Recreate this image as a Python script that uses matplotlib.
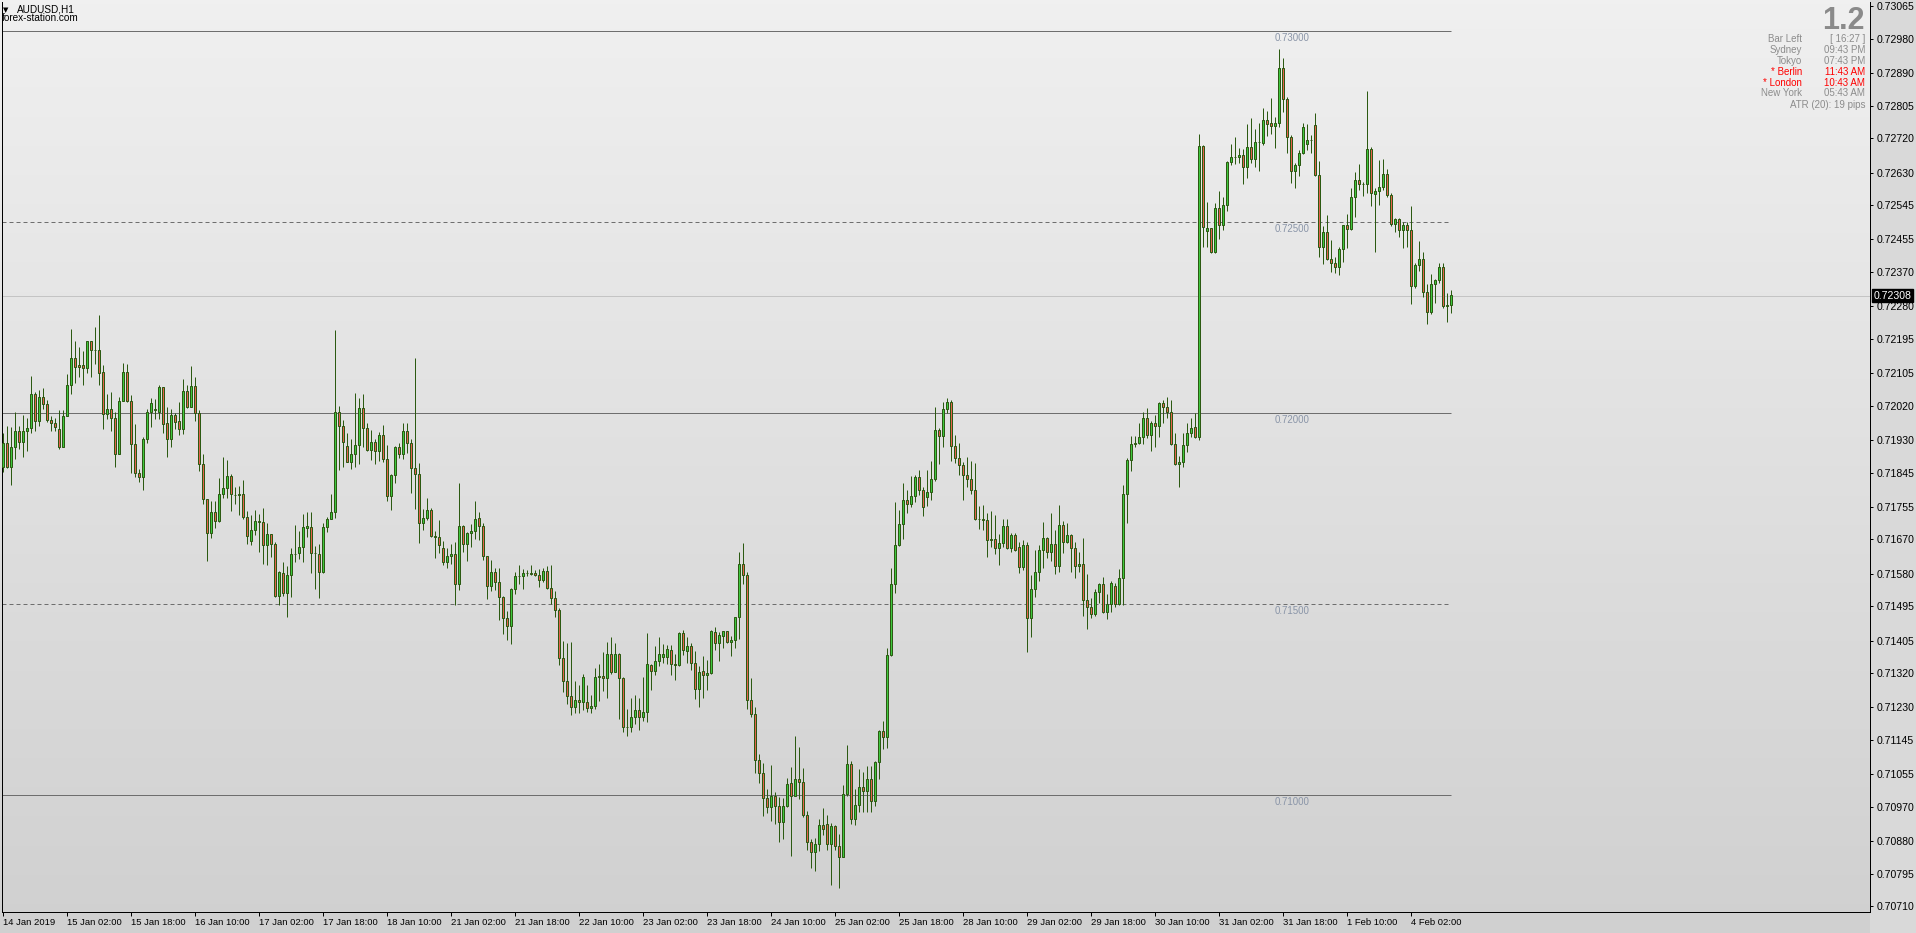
import matplotlib
matplotlib.use("Agg")
import matplotlib.pyplot as plt
import numpy as np
from matplotlib.colors import LinearSegmentedColormap
from matplotlib.patches import Rectangle
import matplotlib.transforms as mtransforms

plt.rcParams['font.family'] = ['Liberation Sans', 'DejaVu Sans']

# ---------------- data (AUDUSD H1, bar 0 = 14 Jan 2019 10:00) ----------------
opens = [
    0.71860, 0.71921, 0.71860, 0.71911, 0.71953, 0.71924, 0.71953, 0.71961, 0.72050, 0.71979,
    0.72042, 0.72024, 0.71982, 0.71974, 0.71958, 0.71913, 0.71992, 0.72073, 0.72144, 0.72126,
    0.72126, 0.72118, 0.72188, 0.72167, 0.72167, 0.72107, 0.71997, 0.72010, 0.71987, 0.71894,
    0.72031, 0.72107, 0.72031, 0.71919, 0.71845, 0.71832, 0.71932, 0.72003, 0.72010, 0.72004,
    0.72068, 0.71974, 0.71932, 0.71995, 0.71979, 0.71958, 0.72058, 0.72016, 0.72071, 0.72002,
    0.71866, 0.71775, 0.71686, 0.71741, 0.71717, 0.71788, 0.71804, 0.71835, 0.71786, 0.71785,
    0.71788, 0.71729, 0.71665, 0.71694, 0.71717, 0.71715, 0.71654, 0.71683, 0.71659, 0.71523,
    0.71581, 0.71529, 0.71578, 0.71632, 0.71633, 0.71649, 0.71699, 0.71702, 0.71633, 0.71632,
    0.71585, 0.71702, 0.71722, 0.71741, 0.72003, 0.71966, 0.71914, 0.71873, 0.71893, 0.71916,
    0.72013, 0.71961, 0.71903, 0.71924, 0.71900, 0.71942, 0.71880, 0.71784, 0.71838, 0.71911,
    0.71893, 0.71953, 0.71921, 0.71856, 0.71840, 0.71712, 0.71725, 0.71746, 0.71678, 0.71675,
    0.71647, 0.71612, 0.71626, 0.71631, 0.71552, 0.71704, 0.71657, 0.71686, 0.71691, 0.71725,
    0.71704, 0.71626, 0.71549, 0.71584, 0.71558, 0.71518, 0.71463, 0.71442, 0.71539, 0.71573,
    0.71573, 0.71581, 0.71581, 0.71583, 0.71578, 0.71563, 0.71586, 0.71542, 0.71516, 0.71484,
    0.71360, 0.71300, 0.71260, 0.71230, 0.71250, 0.71245, 0.71245, 0.71228, 0.71235, 0.71309,
    0.71313, 0.71306, 0.71369, 0.71322, 0.71369, 0.71306, 0.71178, 0.71180, 0.71206, 0.71222,
    0.71206, 0.71217, 0.71340, 0.71326, 0.71351, 0.71363, 0.71363, 0.71381, 0.71343, 0.71341,
    0.71424, 0.71379, 0.71391, 0.71347, 0.71277, 0.71325, 0.71314, 0.71319, 0.71427, 0.71398,
    0.71417, 0.71429, 0.71402, 0.71407, 0.71467, 0.71605, 0.71576, 0.71249, 0.71213, 0.71092,
    0.71058, 0.70992, 0.70970, 0.70999, 0.70973, 0.70931, 0.70971, 0.71031, 0.70999, 0.71042,
    0.71034, 0.70949, 0.70879, 0.70852, 0.70872, 0.70921, 0.70926, 0.70873, 0.70920, 0.70868,
    0.70839, 0.71003, 0.71081, 0.70939, 0.70974, 0.71023, 0.71012, 0.71042, 0.70986, 0.71086,
    0.71168, 0.71152, 0.71366, 0.71552, 0.71654, 0.71709, 0.71772, 0.71762, 0.71783, 0.71832,
    0.71798, 0.71780, 0.71793, 0.71827, 0.71955, 0.71940, 0.72010, 0.72029, 0.71914, 0.71882,
    0.71864, 0.71839, 0.71829, 0.71798, 0.71722, 0.71722, 0.71720, 0.71669, 0.71670, 0.71647,
    0.71660, 0.71705, 0.71648, 0.71681, 0.71650, 0.71597, 0.71655, 0.71465, 0.71539, 0.71585,
    0.71642, 0.71673, 0.71638, 0.71657, 0.71599, 0.71708, 0.71664, 0.71681, 0.71647, 0.71599,
    0.71606, 0.71510, 0.71492, 0.71474, 0.71531, 0.71553, 0.71481, 0.71502, 0.71549, 0.71502,
    0.71568, 0.71788, 0.71878, 0.71920, 0.71923, 0.71937, 0.71989, 0.71942, 0.71974, 0.71968,
    0.72026, 0.72016, 0.72003, 0.71920, 0.71868, 0.71872, 0.71917, 0.71948, 0.71963, 0.71939,
    0.72701, 0.72478, 0.72484, 0.72421, 0.72537, 0.72493, 0.72545, 0.72659, 0.72670, 0.72670,
    0.72675, 0.72646, 0.72698, 0.72665, 0.72709, 0.72707, 0.72767, 0.72761, 0.72752, 0.72759,
    0.72905, 0.72822, 0.72722, 0.72633, 0.72650, 0.72682, 0.72704, 0.72715, 0.72756, 0.72624,
    0.72435, 0.72474, 0.72404, 0.72393, 0.72382, 0.72429, 0.72492, 0.72482, 0.72565, 0.72612,
    0.72599, 0.72600, 0.72691, 0.72573, 0.72582, 0.72593, 0.72626, 0.72571, 0.72495, 0.72508,
    0.72480, 0.72492, 0.72480, 0.72332, 0.72387, 0.72403, 0.72317, 0.72264, 0.72339, 0.72349,
    0.72382, 0.72282, 0.72284,
]
highs = [
    0.71948, 0.71967, 0.71965, 0.72003, 0.71968, 0.71995, 0.71989, 0.72098, 0.72056, 0.72061,
    0.72066, 0.72035, 0.71993, 0.71989, 0.72009, 0.72009, 0.72103, 0.72221, 0.72188, 0.72173,
    0.72162, 0.72190, 0.72190, 0.72225, 0.72257, 0.72126, 0.72051, 0.72055, 0.72003, 0.72042,
    0.72131, 0.72129, 0.72047, 0.71971, 0.71853, 0.71939, 0.72010, 0.72040, 0.72037, 0.72074,
    0.72070, 0.72016, 0.72011, 0.72000, 0.72029, 0.72089, 0.72073, 0.72124, 0.72095, 0.72009,
    0.71893, 0.71775, 0.71770, 0.71770, 0.71831, 0.71886, 0.71878, 0.71841, 0.71806, 0.71810,
    0.71825, 0.71743, 0.71733, 0.71747, 0.71736, 0.71751, 0.71713, 0.71683, 0.71664, 0.71586,
    0.71612, 0.71599, 0.71647, 0.71708, 0.71692, 0.71736, 0.71741, 0.71741, 0.71653, 0.71658,
    0.71712, 0.71728, 0.71789, 0.72218, 0.72019, 0.71983, 0.71948, 0.71932, 0.72053, 0.72040,
    0.72051, 0.71974, 0.71956, 0.71934, 0.71950, 0.71969, 0.71916, 0.71840, 0.71914, 0.71921,
    0.71974, 0.71974, 0.71934, 0.72144, 0.71869, 0.71749, 0.71777, 0.71752, 0.71691, 0.71721,
    0.71666, 0.71647, 0.71657, 0.71663, 0.71817, 0.71708, 0.71690, 0.71710, 0.71770, 0.71742,
    0.71714, 0.71626, 0.71616, 0.71595, 0.71595, 0.71522, 0.71482, 0.71542, 0.71584, 0.71602,
    0.71592, 0.71590, 0.71602, 0.71590, 0.71592, 0.71594, 0.71599, 0.71602, 0.71534, 0.71490,
    0.71404, 0.71398, 0.71400, 0.71300, 0.71290, 0.71318, 0.71289, 0.71263, 0.71332, 0.71344,
    0.71375, 0.71401, 0.71414, 0.71399, 0.71372, 0.71309, 0.71226, 0.71255, 0.71263, 0.71255,
    0.71309, 0.71425, 0.71344, 0.71391, 0.71414, 0.71396, 0.71393, 0.71393, 0.71369, 0.71427,
    0.71433, 0.71414, 0.71398, 0.71378, 0.71339, 0.71365, 0.71354, 0.71433, 0.71441, 0.71427,
    0.71430, 0.71430, 0.71416, 0.71468, 0.71636, 0.71660, 0.71584, 0.71307, 0.71230, 0.71108,
    0.71084, 0.71017, 0.71079, 0.71008, 0.70996, 0.70994, 0.71045, 0.71073, 0.71155, 0.71126,
    0.71072, 0.70960, 0.70885, 0.70887, 0.70938, 0.70967, 0.70948, 0.70927, 0.70922, 0.70899,
    0.71027, 0.71132, 0.71090, 0.71017, 0.71069, 0.71061, 0.71077, 0.71077, 0.71090, 0.71170,
    0.71195, 0.71385, 0.71594, 0.71767, 0.71747, 0.71818, 0.71798, 0.71835, 0.71839, 0.71852,
    0.71806, 0.71852, 0.71875, 0.72016, 0.71962, 0.72030, 0.72039, 0.72035, 0.71943, 0.71922,
    0.71873, 0.71885, 0.71875, 0.71869, 0.71757, 0.71759, 0.71738, 0.71744, 0.71734, 0.71684,
    0.71722, 0.71722, 0.71686, 0.71686, 0.71664, 0.71668, 0.71664, 0.71577, 0.71642, 0.71655,
    0.71716, 0.71675, 0.71738, 0.71695, 0.71760, 0.71718, 0.71712, 0.71683, 0.71664, 0.71637,
    0.71674, 0.71579, 0.71516, 0.71539, 0.71557, 0.71571, 0.71527, 0.71561, 0.71556, 0.71592,
    0.71811, 0.71882, 0.71941, 0.71941, 0.71975, 0.72003, 0.72013, 0.71979, 0.71996, 0.72030,
    0.72035, 0.72042, 0.72035, 0.71949, 0.71888, 0.71949, 0.71975, 0.71989, 0.72000, 0.72731,
    0.72703, 0.72552, 0.72486, 0.72550, 0.72582, 0.72567, 0.72661, 0.72704, 0.72724, 0.72694,
    0.72693, 0.72757, 0.72772, 0.72743, 0.72761, 0.72798, 0.72791, 0.72826, 0.72776, 0.72953,
    0.72929, 0.72827, 0.72729, 0.72656, 0.72688, 0.72759, 0.72757, 0.72729, 0.72785, 0.72660,
    0.72490, 0.72519, 0.72454, 0.72410, 0.72436, 0.72493, 0.72523, 0.72589, 0.72631, 0.72652,
    0.72606, 0.72844, 0.72696, 0.72589, 0.72663, 0.72667, 0.72639, 0.72576, 0.72512, 0.72512,
    0.72500, 0.72500, 0.72543, 0.72393, 0.72451, 0.72422, 0.72339, 0.72365, 0.72352, 0.72394,
    0.72394, 0.72314, 0.72323,
]
lows = [
    0.71847, 0.71858, 0.71813, 0.71881, 0.71907, 0.71886, 0.71900, 0.71948, 0.71953, 0.71968,
    0.72010, 0.71976, 0.71953, 0.71953, 0.71907, 0.71911, 0.71992, 0.72050, 0.72080, 0.72096,
    0.72073, 0.72105, 0.72096, 0.72128, 0.72073, 0.71958, 0.71984, 0.71953, 0.71859, 0.71894,
    0.72031, 0.72029, 0.71845, 0.71832, 0.71821, 0.71798, 0.71921, 0.71965, 0.71984, 0.71986,
    0.71949, 0.71886, 0.71913, 0.71960, 0.71944, 0.71947, 0.72015, 0.72016, 0.71981, 0.71850,
    0.71763, 0.71614, 0.71674, 0.71701, 0.71715, 0.71777, 0.71777, 0.71743, 0.71763, 0.71733,
    0.71722, 0.71659, 0.71656, 0.71681, 0.71638, 0.71606, 0.71604, 0.71623, 0.71518, 0.71497,
    0.71523, 0.71468, 0.71518, 0.71612, 0.71619, 0.71612, 0.71677, 0.71583, 0.71541, 0.71516,
    0.71583, 0.71690, 0.71722, 0.71725, 0.71852, 0.71860, 0.71872, 0.71855, 0.71860, 0.71866,
    0.71913, 0.71900, 0.71877, 0.71866, 0.71874, 0.71872, 0.71771, 0.71748, 0.71818, 0.71882,
    0.71880, 0.71895, 0.71792, 0.71749, 0.71660, 0.71694, 0.71720, 0.71676, 0.71620, 0.71633,
    0.71603, 0.71594, 0.71606, 0.71497, 0.71537, 0.71638, 0.71614, 0.71651, 0.71672, 0.71668,
    0.71616, 0.71515, 0.71534, 0.71537, 0.71460, 0.71421, 0.71407, 0.71397, 0.71526, 0.71552,
    0.71539, 0.71573, 0.71576, 0.71573, 0.71544, 0.71558, 0.71539, 0.71502, 0.71468, 0.71340,
    0.71270, 0.71240, 0.71210, 0.71215, 0.71215, 0.71223, 0.71219, 0.71216, 0.71226, 0.71247,
    0.71273, 0.71256, 0.71318, 0.71322, 0.71200, 0.71166, 0.71156, 0.71166, 0.71187, 0.71171,
    0.71195, 0.71192, 0.71275, 0.71315, 0.71339, 0.71347, 0.71344, 0.71315, 0.71303, 0.71338,
    0.71367, 0.71347, 0.71328, 0.71252, 0.71232, 0.71256, 0.71276, 0.71318, 0.71381, 0.71352,
    0.71386, 0.71399, 0.71364, 0.71386, 0.71408, 0.71552, 0.71225, 0.71204, 0.71058, 0.71031,
    0.70947, 0.70953, 0.70934, 0.70926, 0.70879, 0.70886, 0.70970, 0.70842, 0.70998, 0.70991,
    0.70944, 0.70857, 0.70809, 0.70803, 0.70855, 0.70896, 0.70857, 0.70766, 0.70857, 0.70757,
    0.70839, 0.70999, 0.70925, 0.70921, 0.70957, 0.70957, 0.70955, 0.70955, 0.70973, 0.71042,
    0.71120, 0.71123, 0.71365, 0.71529, 0.71652, 0.71672, 0.71738, 0.71756, 0.71769, 0.71786,
    0.71731, 0.71757, 0.71772, 0.71822, 0.71866, 0.71913, 0.72001, 0.71876, 0.71869, 0.71839,
    0.71773, 0.71808, 0.71789, 0.71721, 0.71697, 0.71695, 0.71625, 0.71649, 0.71632, 0.71603,
    0.71651, 0.71646, 0.71638, 0.71640, 0.71583, 0.71590, 0.71376, 0.71414, 0.71518, 0.71562,
    0.71596, 0.71622, 0.71613, 0.71580, 0.71585, 0.71633, 0.71660, 0.71585, 0.71570, 0.71585,
    0.71470, 0.71436, 0.71463, 0.71470, 0.71504, 0.71478, 0.71462, 0.71481, 0.71494, 0.71498,
    0.71498, 0.71714, 0.71850, 0.71911, 0.71920, 0.71920, 0.71936, 0.71902, 0.71911, 0.71939,
    0.71974, 0.71987, 0.71917, 0.71865, 0.71806, 0.71860, 0.71898, 0.71939, 0.71936, 0.71930,
    0.72436, 0.72436, 0.72419, 0.72420, 0.72456, 0.72480, 0.72530, 0.72650, 0.72653, 0.72654,
    0.72600, 0.72615, 0.72656, 0.72646, 0.72633, 0.72702, 0.72726, 0.72730, 0.72694, 0.72750,
    0.72790, 0.72681, 0.72604, 0.72591, 0.72622, 0.72680, 0.72688, 0.72681, 0.72622, 0.72410,
    0.72390, 0.72401, 0.72371, 0.72366, 0.72362, 0.72397, 0.72432, 0.72480, 0.72515, 0.72585,
    0.72570, 0.72576, 0.72543, 0.72423, 0.72545, 0.72585, 0.72567, 0.72490, 0.72474, 0.72462,
    0.72432, 0.72436, 0.72285, 0.72327, 0.72373, 0.72305, 0.72233, 0.72259, 0.72290, 0.72342,
    0.72275, 0.72238, 0.72262,
]
closes = [
    0.71921, 0.71860, 0.71911, 0.71953, 0.71924, 0.71953, 0.71961, 0.72050, 0.71979, 0.72042,
    0.72024, 0.71982, 0.71974, 0.71963, 0.71913, 0.71992, 0.72073, 0.72144, 0.72120, 0.72120,
    0.72118, 0.72188, 0.72167, 0.72165, 0.72105, 0.71997, 0.72010, 0.71987, 0.71894, 0.72031,
    0.72107, 0.72031, 0.71919, 0.71845, 0.71832, 0.71932, 0.72003, 0.72026, 0.72008, 0.72068,
    0.71971, 0.71932, 0.71995, 0.71978, 0.71958, 0.72058, 0.72017, 0.72071, 0.72000, 0.71866,
    0.71775, 0.71686, 0.71741, 0.71717, 0.71788, 0.71804, 0.71835, 0.71788, 0.71785, 0.71788,
    0.71729, 0.71678, 0.71694, 0.71717, 0.71715, 0.71654, 0.71683, 0.71659, 0.71523, 0.71584,
    0.71529, 0.71578, 0.71631, 0.71632, 0.71649, 0.71702, 0.71704, 0.71633, 0.71633, 0.71585,
    0.71702, 0.71722, 0.71741, 0.72003, 0.71966, 0.71924, 0.71873, 0.71893, 0.71916, 0.72013,
    0.71961, 0.71903, 0.71924, 0.71900, 0.71942, 0.71880, 0.71784, 0.71838, 0.71911, 0.71893,
    0.71953, 0.71921, 0.71856, 0.71840, 0.71712, 0.71725, 0.71746, 0.71678, 0.71677, 0.71654,
    0.71612, 0.71626, 0.71631, 0.71552, 0.71704, 0.71657, 0.71686, 0.71691, 0.71722, 0.71704,
    0.71626, 0.71549, 0.71584, 0.71558, 0.71518, 0.71463, 0.71442, 0.71539, 0.71573, 0.71573,
    0.71581, 0.71581, 0.71580, 0.71578, 0.71563, 0.71586, 0.71542, 0.71516, 0.71484, 0.71360,
    0.71300, 0.71260, 0.71230, 0.71250, 0.71245, 0.71309, 0.71228, 0.71235, 0.71309, 0.71311,
    0.71306, 0.71369, 0.71322, 0.71369, 0.71306, 0.71178, 0.71178, 0.71206, 0.71222, 0.71206,
    0.71217, 0.71343, 0.71326, 0.71351, 0.71369, 0.71369, 0.71382, 0.71343, 0.71342, 0.71424,
    0.71381, 0.71391, 0.71347, 0.71277, 0.71324, 0.71314, 0.71319, 0.71429, 0.71398, 0.71419,
    0.71429, 0.71401, 0.71407, 0.71467, 0.71605, 0.71576, 0.71249, 0.71213, 0.71092, 0.71058,
    0.70992, 0.70970, 0.70999, 0.70973, 0.70931, 0.70971, 0.71029, 0.70999, 0.71042, 0.71034,
    0.70949, 0.70879, 0.70852, 0.70872, 0.70921, 0.70913, 0.70873, 0.70920, 0.70868, 0.70839,
    0.71003, 0.71081, 0.70939, 0.70974, 0.71023, 0.71012, 0.71042, 0.70986, 0.71086, 0.71168,
    0.71152, 0.71366, 0.71552, 0.71654, 0.71709, 0.71772, 0.71762, 0.71783, 0.71832, 0.71798,
    0.71756, 0.71793, 0.71827, 0.71955, 0.71940, 0.72010, 0.72029, 0.71914, 0.71882, 0.71864,
    0.71839, 0.71829, 0.71798, 0.71722, 0.71722, 0.71720, 0.71669, 0.71670, 0.71647, 0.71660,
    0.71705, 0.71648, 0.71681, 0.71642, 0.71597, 0.71655, 0.71465, 0.71539, 0.71585, 0.71642,
    0.71673, 0.71638, 0.71657, 0.71599, 0.71708, 0.71664, 0.71681, 0.71647, 0.71599, 0.71606,
    0.71510, 0.71492, 0.71474, 0.71531, 0.71553, 0.71481, 0.71502, 0.71555, 0.71502, 0.71568,
    0.71788, 0.71878, 0.71920, 0.71923, 0.71937, 0.71989, 0.71942, 0.71974, 0.71968, 0.72026,
    0.72016, 0.72003, 0.71920, 0.71868, 0.71872, 0.71917, 0.71948, 0.71962, 0.71939, 0.72701,
    0.72488, 0.72484, 0.72421, 0.72537, 0.72493, 0.72545, 0.72659, 0.72670, 0.72670, 0.72675,
    0.72646, 0.72698, 0.72665, 0.72709, 0.72709, 0.72767, 0.72758, 0.72752, 0.72759, 0.72903,
    0.72822, 0.72722, 0.72633, 0.72650, 0.72682, 0.72750, 0.72715, 0.72715, 0.72624, 0.72435,
    0.72474, 0.72404, 0.72393, 0.72382, 0.72429, 0.72492, 0.72482, 0.72565, 0.72612, 0.72599,
    0.72600, 0.72691, 0.72578, 0.72582, 0.72593, 0.72626, 0.72571, 0.72495, 0.72508, 0.72480,
    0.72492, 0.72480, 0.72332, 0.72387, 0.72403, 0.72317, 0.72264, 0.72339, 0.72349, 0.72382,
    0.72282, 0.72284, 0.72309,
]

date_labels = ["14 Jan 2019", "15 Jan 02:00", "15 Jan 18:00", "16 Jan 10:00", "17 Jan 02:00",
               "17 Jan 18:00", "18 Jan 10:00", "21 Jan 02:00", "21 Jan 18:00", "22 Jan 10:00",
               "23 Jan 02:00", "23 Jan 18:00", "24 Jan 10:00", "25 Jan 02:00", "25 Jan 18:00",
               "28 Jan 10:00", "29 Jan 02:00", "29 Jan 18:00", "30 Jan 10:00", "31 Jan 02:00",
               "31 Jan 18:00", "1 Feb 10:00", "4 Feb 02:00"]
bars_per_label = 16

price_ticks = [0.73065, 0.72980, 0.72890, 0.72805, 0.72720, 0.72630, 0.72545, 0.72455,
               0.72370, 0.72280, 0.72195, 0.72105, 0.72020, 0.71930, 0.71845, 0.71755,
               0.71670, 0.71580, 0.71495, 0.71405, 0.71320, 0.71230, 0.71145, 0.71055,
               0.70970, 0.70880, 0.70795, 0.70710]

solid_levels = [0.73000, 0.72000, 0.71000]
dashed_levels = [0.72500, 0.71500]
current_price = 0.72308

info_labels = ["Bar Left", "Sydney", "Tokyo", "* Berlin", "* London", "New York"]
info_values = ["[ 16:27 ]", "09:43 PM", "07:43 PM", "11:43 AM", "10:43 AM", "05:43 AM"]
info_red = [False, False, False, True, True, False]
atr_text = "ATR (20): 19 pips"
version_text = "1.2"

# ---------------- layout ----------------
W, H, DPI = 1916, 933, 100
fig = plt.figure(figsize=(W / DPI, H / DPI), dpi=DPI)

def px(v):          # pixels -> points
    return v * 72.0 / DPI

L, R, T, B = 2, 1870, 2, 912

# background gradient
bg = fig.add_axes([0, 0, 1, 1], zorder=-10)
bg.set_axis_off()
grad = np.linspace(0, 1, 256).reshape(-1, 1)
cmap = LinearSegmentedColormap.from_list('bg', ['#f0f0f0', '#d0d0d0'])
bg.imshow(grad, aspect='auto', cmap=cmap, extent=[0, 1, 0, 1], origin='upper')
bg.add_patch(Rectangle((R / W, 0), 1 - R / W, 1, facecolor='#d9d9d9', edgecolor='none'))
bg.set_xlim(0, 1)
bg.set_ylim(0, 1)

ax = fig.add_axes([L / W, (H - B) / H, (R - L) / W, (B - T) / H])
ax.patch.set_alpha(0)

n = len(closes)
x = np.arange(n)
o = np.array(opens)
c = np.array(closes)
h = np.maximum(np.array(highs), np.maximum(o, c))
l = np.minimum(np.array(lows), np.minimum(o, c))

bar_px = 4.0
ax.set_xlim(-0.25, -0.25 + (R - L) / bar_px)
pip_px = 191.0 / 0.005
ax.set_ylim(0.72 - (B - 413.3) / pip_px, 0.72 + (413.3 - T) / pip_px)

ax.spines['top'].set_visible(False)
for s in ['left', 'bottom', 'right']:
    ax.spines[s].set_color('black')
    ax.spines[s].set_linewidth(px(1))

# level lines
last = n - 1
ax.hlines(solid_levels, -0.25, last, colors='#6e6e6e', linewidth=px(1), zorder=1)
ax.hlines(dashed_levels, -0.25, last, colors='#6e6e6e', linewidth=px(1),
          linestyles=(0, (4, 3)), zorder=1)
label_bar = 318
for lv in solid_levels + dashed_levels:
    ax.text(label_bar, lv - 1.5 / pip_px, f"{lv:.5f}", ha='left', va='top', fontsize=7.0,
            color='#8a95a8', zorder=2)

# current price line
ax.axhline(current_price, color='#c4c4c4', linewidth=px(1), zorder=1)

# candles
dark = '#2c5a12'
ax.vlines(x, l, h, colors=dark, linewidth=px(1), zorder=3)
fill = np.where(c > o, '#3ec83e', np.where(c < o, '#e4624c', '#2c5a12'))
bottoms = np.minimum(o, c)
heights = np.abs(c - o)
ax.bar(x, heights, bottom=bottoms, width=0.5, color=fill, edgecolor=dark,
       linewidth=px(1), zorder=4)

# y axis on the right
ax.yaxis.tick_right()
ax.set_yticks(price_ticks)
ax.set_yticklabels([f"{v:.5f}" for v in price_ticks])
ax.tick_params(axis='y', direction='out', length=px(3), width=px(1), pad=px(4),
               labelsize=7.6, colors='black')

# x axis
tick_idx = [i * bars_per_label for i in range(len(date_labels))]
ax.set_xticks(tick_idx)
ax.set_xticklabels(date_labels, ha='left')
ax.tick_params(axis='x', direction='out', length=px(4), width=px(1), pad=px(2),
               labelsize=6.8, colors='black')

# current price box
trans = mtransforms.blended_transform_factory(ax.transAxes, ax.transData)
ax.text(1.0 + 4 / (R - L), current_price, f"{current_price:.5f}", transform=trans,
        ha='left', va='center', fontsize=7.6, color='white', zorder=10,
        bbox=dict(boxstyle='square,pad=0.15', facecolor='black', edgecolor='black'),
        clip_on=False)

# header texts
fig.text(3 / W, 1 - 10 / H, "\u25BC", fontsize=5, ha='left', va='center',
         family=['DejaVu Sans'], color='black')
fig.text(17 / W, 1 - 10 / H, "AUDUSD,H1", fontsize=7.2, ha='left', va='center', color='black')
fig.text(2 / W, 1 - 18 / H, "forex-station.com", fontsize=7.2, ha='left', va='center', color='black')

# info panel top right
fig.text(1865 / W, 1 - 21 / H, version_text, fontsize=22, fontweight='bold',
         ha='right', va='center', color='#8a8a8a')
row_y = [39, 50, 61, 72, 82.7, 93.3]
for lab, val, red, yy in zip(info_labels, info_values, info_red, row_y):
    col = '#ff0000' if red else '#8c8c8c'
    fig.text(1802 / W, 1 - yy / H, lab, fontsize=7, ha='right', va='center', color=col)
    fig.text(1865 / W, 1 - yy / H, val, fontsize=7, ha='right', va='center', color=col)
fig.text(1865 / W, 1 - 105.3 / H, atr_text, fontsize=7, ha='right', va='center', color='#8c8c8c')

fig.savefig("out.png", dpi=DPI)
